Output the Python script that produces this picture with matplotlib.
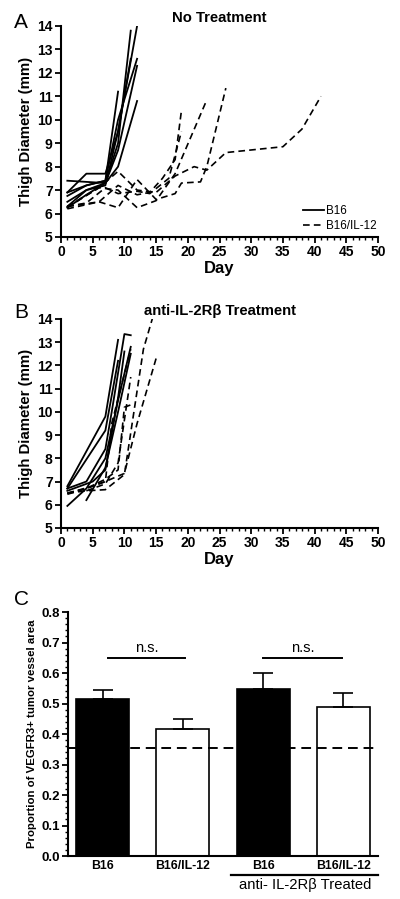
import matplotlib
matplotlib.use("Agg")
import matplotlib.pyplot as plt
from matplotlib.ticker import MultipleLocator
from matplotlib.lines import Line2D

plt.rcParams['font.family'] = ['Liberation Sans', 'DejaVu Sans']

# Panel A: no treatment, thigh diameter (mm) per mouse
a_b16_days = [
    [1, 4, 7, 9, 11],
    [1, 4, 7, 9, 12],
    [1, 4, 7, 9, 12],
    [1, 4, 7, 9, 12],
    [1, 4, 7, 9, 12],
    [1, 4, 7, 9],
    [1, 4, 7, 9, 11],
]
a_b16_vals = [
    [7.4, 7.35, 7.3, 9.0, 13.8],
    [6.9, 7.7, 7.7, 9.5, 14.0],
    [6.75, 7.2, 7.4, 10.0, 12.6],
    [6.3, 7.0, 7.3, 8.7, 12.3],
    [6.25, 6.8, 7.3, 8.0, 10.8],
    [6.9, 7.2, 7.4, 11.2],
    [6.5, 7.0, 7.2, 9.5, 12.6],
]
a_il12_days = [
    [1, 6, 9, 12, 15, 18, 21, 23, 26, 35, 38, 41],
    [1, 6, 9, 12, 15, 18, 19, 22, 23, 26],
    [1, 3, 6, 9, 12, 15, 18, 23],
    [1, 6, 9, 12, 14, 16, 18, 19],
    [1, 4, 7, 9, 12, 14, 17, 19],
]
a_il12_vals = [
    [6.3, 7.1, 7.8, 7.0, 6.9, 7.6, 8.0, 7.85, 8.6, 8.85, 9.6, 11.0],
    [6.2, 6.5, 6.25, 7.45, 6.6, 6.85, 7.3, 7.35, 8.0, 11.35],
    [6.25, 6.6, 7.1, 7.0, 6.25, 6.55, 7.7, 10.85],
    [6.3, 6.5, 7.2, 6.8, 6.9, 7.5, 8.3, 10.4],
    [6.3, 6.45, 7.1, 6.85, 6.95, 6.85, 7.5, 9.5],
]

# Panel B: anti-IL-2Rb treatment
b_b16_days = [
    [1, 7, 9],
    [1, 7, 9],
    [1, 4, 7, 8, 10, 11],
    [1, 4, 7, 9, 11],
    [4, 7, 9, 11],
    [1, 5, 7, 9, 10],
]
b_b16_vals = [
    [6.8, 9.8, 13.1],
    [6.7, 9.2, 12.2],
    [6.7, 7.0, 8.4, 10.0, 13.35, 13.3],
    [5.95, 6.7, 8.0, 10.5, 12.8],
    [6.2, 7.6, 10.0, 12.5],
    [6.6, 7.0, 7.5, 10.6, 12.6],
]
b_il12_days = [
    [1, 4, 7, 10, 13, 14.5],
    [1, 4, 7, 10, 12, 15],
    [1, 5, 7, 8, 11],
    [1, 4, 7, 9, 10, 11],
    [4, 7, 9, 11],
]
b_il12_vals = [
    [6.5, 6.6, 6.65, 7.3, 12.7, 14.1],
    [6.45, 6.7, 7.0, 7.35, 9.5, 12.3],
    [6.5, 6.8, 7.0, 9.5, 12.7],
    [6.5, 6.7, 7.1, 7.5, 10.2, 10.3],
    [6.6, 6.9, 7.8, 11.5],
]

# Panel C: VEGFR3+ proportion
c_labels = ["B16", "B16/IL-12", "B16", "B16/IL-12"]
c_means = [0.515, 0.415, 0.548, 0.487]
c_sem = [0.030, 0.035, 0.053, 0.048]
c_colors = ["black", "white", "black", "white"]
c_baseline = 0.355

fig = plt.figure(figsize=(4.0, 8.99), dpi=100)


def style_growth(ax, title):
    ax.set_xlim(0, 50)
    ax.set_ylim(5, 14)
    ax.xaxis.set_major_locator(MultipleLocator(5))
    ax.xaxis.set_minor_locator(MultipleLocator(1))
    ax.yaxis.set_major_locator(MultipleLocator(1))
    for s in ["top", "right"]:
        ax.spines[s].set_visible(False)
    for s in ["left", "bottom"]:
        ax.spines[s].set_linewidth(1.5)
    ax.tick_params(which="major", width=1.3, length=4, labelsize=10, pad=2)
    ax.tick_params(which="minor", width=1.0, length=2.5)
    for lab in ax.get_xticklabels() + ax.get_yticklabels():
        lab.set_fontweight("bold")
    ax.set_xlabel("Day", fontsize=12, fontweight="bold", labelpad=1)
    ax.set_ylabel("Thigh Diameter (mm)", fontsize=10.8, fontweight="bold", labelpad=3)
    ax.set_title(title, fontsize=10.7, fontweight="bold", pad=3)


axA = fig.add_axes([0.1525, 0.7364, 0.7925, 0.2347])
for d, v in zip(a_b16_days, a_b16_vals):
    axA.plot(d, v, color="black", lw=1.3)
for d, v in zip(a_il12_days, a_il12_vals):
    axA.plot(d, v, color="black", lw=1.2, ls=(0, (4, 2.5)))
style_growth(axA, "No Treatment")
handles = [Line2D([], [], color="black", lw=1.3),
           Line2D([], [], color="black", lw=1.2, ls=(0, (4, 2.5)))]
axA.legend(handles, ["B16", "B16/IL-12"], loc="lower right", frameon=False,
           fontsize=8.4, handlelength=1.8, handletextpad=0.2, labelspacing=0.25,
           borderaxespad=0.0, borderpad=0.1, bbox_to_anchor=(1.0, 0.02))

axB = fig.add_axes([0.1525, 0.4127, 0.7925, 0.2325])
for d, v in zip(b_b16_days, b_b16_vals):
    axB.plot(d, v, color="black", lw=1.3)
for d, v in zip(b_il12_days, b_il12_vals):
    axB.plot(d, v, color="black", lw=1.2, ls=(0, (4, 2.5)))
style_growth(axB, "anti-IL-2R\u03b2 Treatment")

axC = fig.add_axes([0.17, 0.0478, 0.775, 0.2714])
xpos = [0, 1, 2, 3]
axC.bar(xpos, c_means, width=0.66, color=c_colors, edgecolor="black", lw=1.2, zorder=2)
axC.errorbar(xpos, c_means, yerr=[[0] * 4, c_sem], fmt="none", ecolor="black",
             elinewidth=1.2, capsize=7, capthick=1.2, zorder=3)
axC.axhline(c_baseline, color="black", lw=1.4, ls=(0, (5, 3)), zorder=4)
axC.set_xlim(-0.43, 3.43)
axC.set_ylim(0, 0.8)
axC.yaxis.set_minor_locator(MultipleLocator(0.02))
axC.set_yticks([i / 10 for i in range(9)])
axC.set_yticklabels([f"{i / 10:.1f}" for i in range(9)])
axC.set_xticks(xpos)
axC.set_xticklabels(c_labels)
for s in ["top", "right"]:
    axC.spines[s].set_visible(False)
for s in ["left", "bottom"]:
    axC.spines[s].set_linewidth(1.5)
axC.tick_params(axis="x", length=0, labelsize=8.8, pad=3)
axC.tick_params(axis="y", which="major", width=1.3, length=4, labelsize=9.5, pad=2)
axC.tick_params(axis="y", which="minor", width=1.0, length=2)
for lab in axC.get_xticklabels() + axC.get_yticklabels():
    lab.set_fontweight("bold")
axC.set_ylabel("Proportion of VEGFR3+ tumor vessel area", fontsize=8.2,
               fontweight="bold", labelpad=3)

# significance brackets
for x0, x1 in [(0.07, 1.03), (2.0, 2.98)]:
    axC.plot([x0, x1], [0.65, 0.65], color="black", lw=1.4, clip_on=False)
    axC.text((x0 + x1) / 2, 0.658, "n.s.", ha="center", va="bottom", fontsize=10.5)

# group underline and label
axC.plot([1.6, 3.43], [-0.061, -0.061], color="black", lw=1.6, clip_on=False)
axC.text(2.52, -0.072, "anti- IL-2R\u03b2 Treated", ha="center", va="top", fontsize=10.6)

fig.text(0.035, 0.986, "A", fontsize=15, va="top")
fig.text(0.035, 0.663, "B", fontsize=15, va="top")
fig.text(0.035, 0.344, "C", fontsize=15, va="top")

fig.savefig("out.png", dpi=100)
